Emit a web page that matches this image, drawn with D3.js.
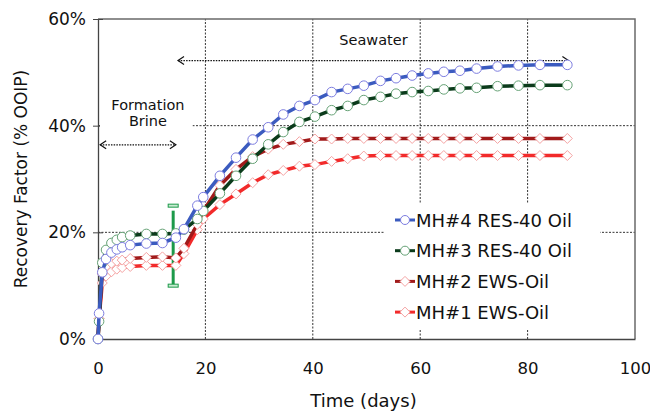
<!DOCTYPE html>
<html>
<head>
<meta charset="utf-8">
<script src="https://cdn.jsdelivr.net/npm/d3@7"></script>
<style>
  body { margin: 0; background: #fff; }
  text { font-family: "DejaVu Sans", Verdana, sans-serif; fill: #111; }
</style>
</head>
<body>
<div id="chart"></div>
<script>
// time points (days), shared by all four runs
const days = [0, 0.2, 0.8, 1.5, 2.5, 3.5, 4.5, 6, 9, 12, 14.5, 16, 18.5, 19.6, 22.7, 25.7, 28.8, 31.7,
  34.5, 37.5, 40.4, 43.5, 46.5, 49.5, 52.6, 55.5, 58.5, 61.5, 64.4, 67.4, 70.5, 74.4, 78.3, 82.3, 87.4];

// recovery factor, % OOIP
const mh4 = [0, 4.8, 12.5, 15.0, 16.2, 16.8, 17.2, 17.6, 17.9, 18.0, 19.0, 20.6, 25.0, 26.6, 30.6, 34.0, 37.4, 39.7,
  42.1, 43.7, 44.8, 46.3, 46.9, 47.5, 48.4, 48.9, 49.4, 49.8, 50.1, 50.3, 50.7, 51.1, 51.3, 51.4, 51.4];
const mh3 = [0, 3.3, 14.3, 16.7, 18.0, 18.6, 19.1, 19.4, 19.7, 19.7, 19.8, 20.5, 22.5, 24.0, 27.3, 30.6, 33.8, 36.5,
  38.8, 40.7, 41.7, 42.9, 43.7, 44.8, 45.4, 46.0, 46.3, 46.5, 46.8, 47.0, 47.1, 47.4, 47.5, 47.6, 47.6];
const mh2 = [0, 3.8, 12.2, 13.6, 14.2, 14.6, 14.8, 15.1, 15.3, 15.4, 15.2, 17.0, 21.5, 24.0, 28.8, 31.8, 34.2, 35.6,
  36.5, 37.0, 37.5, 37.5, 37.6, 37.6, 37.6, 37.6, 37.6, 37.6, 37.6, 37.6, 37.6, 37.6, 37.6, 37.6, 37.6];
const mh1 = [0, 3.8, 10.5, 11.8, 12.6, 13.1, 13.4, 13.6, 13.8, 13.8, 13.8, 16.0, 20.5, 22.5, 25.2, 27.2, 29.3, 30.8,
  31.6, 32.4, 32.7, 33.3, 33.8, 34.3, 34.4, 34.4, 34.4, 34.4, 34.4, 34.4, 34.4, 34.4, 34.4, 34.4, 34.4];

const seriesNames = ['MH#4 RES-40 Oil', 'MH#3 RES-40 Oil', 'MH#2 EWS-Oil', 'MH#1 EWS-Oil'];
const xTicks = [0, 20, 40, 60, 80, 100];
const yTicks = [0, 20, 40, 60];

// error bar at end of formation brine stage
const errDay = [14];
const errRange = [10, 25];

const width = 650;
const height = 412;
const margin = {top: 19, right: 15, bottom: 73, left: 98};

const series = [
  {name: seriesNames[3], vals: mh1, line: '#f22a2a', mark: '#f5a3a3', shape: 'diamond'},
  {name: seriesNames[2], vals: mh2, line: '#a11a1a', mark: '#f5a3a3', shape: 'diamond'},
  {name: seriesNames[1], vals: mh3, line: '#0b3b1b', mark: '#66a276', shape: 'circle'},
  {name: seriesNames[0], vals: mh4, line: '#3b5bbf', mark: '#7d7de0', shape: 'circle'}
];

const x = d3.scaleLinear().domain([0, 100]).range([margin.left, width - margin.right]);
const y = d3.scaleLinear().domain([0, 60]).range([height - margin.bottom, margin.top]);

const svg = d3.select('#chart').append('svg')
  .attr('width', width)
  .attr('height', height);

// gridlines
svg.append('g')
  .selectAll('line')
  .data(xTicks.filter(d => d > 0 && d < 100))
  .join('line')
  .attr('x1', d => x(d)).attr('x2', d => x(d))
  .attr('y1', y(0)).attr('y2', y(60))
  .attr('stroke', '#333').attr('stroke-width', 1).attr('stroke-dasharray', '2,1.5');
svg.append('g')
  .selectAll('line')
  .data(yTicks.filter(d => d > 0 && d < 60))
  .join('line')
  .attr('x1', x(0)).attr('x2', x(100))
  .attr('y1', d => y(d)).attr('y2', d => y(d))
  .attr('stroke', '#333').attr('stroke-width', 1).attr('stroke-dasharray', '2,1.5');

// frame top and right
svg.append('path')
  .attr('d', `M${x(0)},${y(60)}H${x(100)}V${y(0)}`)
  .attr('fill', 'none').attr('stroke', '#6a6a6a').attr('stroke-width', 1.5);

// axes
const xAxis = svg.append('g')
  .attr('transform', `translate(0,${y(0)})`)
  .call(d3.axisBottom(x).tickValues(xTicks).tickSize(0).tickPadding(23));
xAxis.select('.domain').attr('stroke', '#444').attr('stroke-width', 1.3);
xAxis.selectAll('text').style('font-size', '16.5px');

const yAxis = svg.append('g')
  .attr('transform', `translate(${x(0)},0)`)
  .call(d3.axisLeft(y).tickValues(yTicks).tickFormat(d => d + '%').tickSizeInner(5).tickSizeOuter(0).tickPadding(8));
yAxis.select('.domain').attr('stroke', '#444').attr('stroke-width', 1.3);
yAxis.selectAll('.tick line').attr('stroke', '#444').attr('x2', 5).attr('x1', -5);
yAxis.selectAll('text').style('font-size', '17px').attr('x', -12);

// axis titles
svg.append('text')
  .attr('x', (x(0) + x(100)) / 2 - 3)
  .attr('y', 407)
  .attr('text-anchor', 'middle')
  .style('font-size', '18px')
  .text('Time (days)');
svg.append('text')
  .attr('transform', `translate(27,${(y(0) + y(60)) / 2}) rotate(-90)`)
  .attr('text-anchor', 'middle')
  .style('font-size', '17px')
  .text('Recovery Factor (% OOIP)');

// formation brine label with white box over the gridline
svg.append('rect')
  .attr('x', x(0) + 2).attr('y', y(46))
  .attr('width', x(17.6) - x(0) - 2).attr('height', y(38.5) - y(46))
  .attr('fill', '#fff');
svg.append('text')
  .attr('x', x(9.3)).attr('y', y(43.0))
  .attr('text-anchor', 'middle').style('font-size', '14.5px')
  .text('Formation');
svg.append('text')
  .attr('x', x(9.3)).attr('y', y(40.0))
  .attr('text-anchor', 'middle').style('font-size', '14.5px')
  .text('Brine');
svg.append('text')
  .attr('x', x(51.3)).attr('y', y(55.2))
  .attr('text-anchor', 'middle').style('font-size', '14.5px')
  .text('Seawater');

// double arrows
const arrow = (x1, x2, yv) => {
  const g = svg.append('g').attr('fill', 'none').attr('stroke', '#111').attr('stroke-width', 1.2);
  g.append('line')
    .attr('x1', x(x1)).attr('x2', x(x2)).attr('y1', y(yv)).attr('y2', y(yv))
    .attr('stroke-dasharray', '1.5,1.2');
  g.append('path').attr('d', `M${x(x1) + 6},${y(yv) - 4}L${x(x1)},${y(yv)}L${x(x1) + 6},${y(yv) + 4}`);
  g.append('path').attr('d', `M${x(x2) - 6},${y(yv) - 4}L${x(x2)},${y(yv)}L${x(x2) - 6},${y(yv) + 4}`);
};
arrow(14.9, 87.6, 52.2);
arrow(0.4, 14.5, 36.4);

// error bar
const eb = svg.append('g');
eb.append('line')
  .attr('x1', x(errDay[0])).attr('x2', x(errDay[0]))
  .attr('y1', y(errRange[1]) + 5).attr('y2', y(errRange[0]) - 1)
  .attr('stroke', '#1d9a4a').attr('stroke-width', 3);
eb.selectAll('rect')
  .data(errRange)
  .join('rect')
  .attr('x', x(errDay[0]) - 5).attr('y', d => y(d) - 1.5)
  .attr('width', 10).attr('height', 3)
  .attr('fill', '#c8ecd2').attr('stroke', '#1d9a4a').attr('stroke-width', 1);

// lines and markers
const line = d3.line()
  .x((d, i) => x(days[i]))
  .y(d => y(d));

const diamond = 'M0,-5L5,0L0,5L-5,0Z';

series.forEach(s => {
  const g = svg.append('g');
  g.append('path')
    .attr('d', line(s.vals))
    .attr('fill', 'none')
    .attr('stroke', s.line)
    .attr('stroke-width', 3.5);
  if (s.shape === 'circle') {
    g.selectAll('circle')
      .data(s.vals)
      .join('circle')
      .attr('cx', (d, i) => x(days[i]))
      .attr('cy', d => y(d))
      .attr('r', 4.8)
      .attr('fill', '#fff')
      .attr('stroke', s.mark)
      .attr('stroke-width', 1);
  } else {
    g.selectAll('path.mk')
      .data(s.vals)
      .join('path')
      .attr('class', 'mk')
      .attr('transform', (d, i) => `translate(${x(days[i])},${y(d)})`)
      .attr('d', diamond)
      .attr('fill', '#fff')
      .attr('stroke', s.mark)
      .attr('stroke-width', 1);
  }
});

// legend
const lg = svg.append('g');
lg.append('rect')
  .attr('x', 385).attr('y', 204)
  .attr('width', 215).attr('height', 125)
  .attr('fill', '#fff');
const legendOrder = series.slice().reverse();
legendOrder.forEach((s, i) => {
  const cy = 220 + i * 30.7;
  lg.append('line')
    .attr('x1', 395).attr('x2', 415).attr('y1', cy).attr('y2', cy)
    .attr('stroke', s.line).attr('stroke-width', 3);
  if (s.shape === 'circle') {
    lg.append('circle').attr('cx', 405).attr('cy', cy).attr('r', 4.5)
      .attr('fill', '#fff').attr('stroke', s.mark);
  } else {
    lg.append('path').attr('transform', `translate(405,${cy})`).attr('d', diamond)
      .attr('fill', '#fff').attr('stroke', s.mark);
  }
  lg.append('text')
    .attr('x', 416).attr('y', cy + 6.5)
    .style('font-size', '18px')
    .text(s.name);
});
</script>
</body>
</html>
